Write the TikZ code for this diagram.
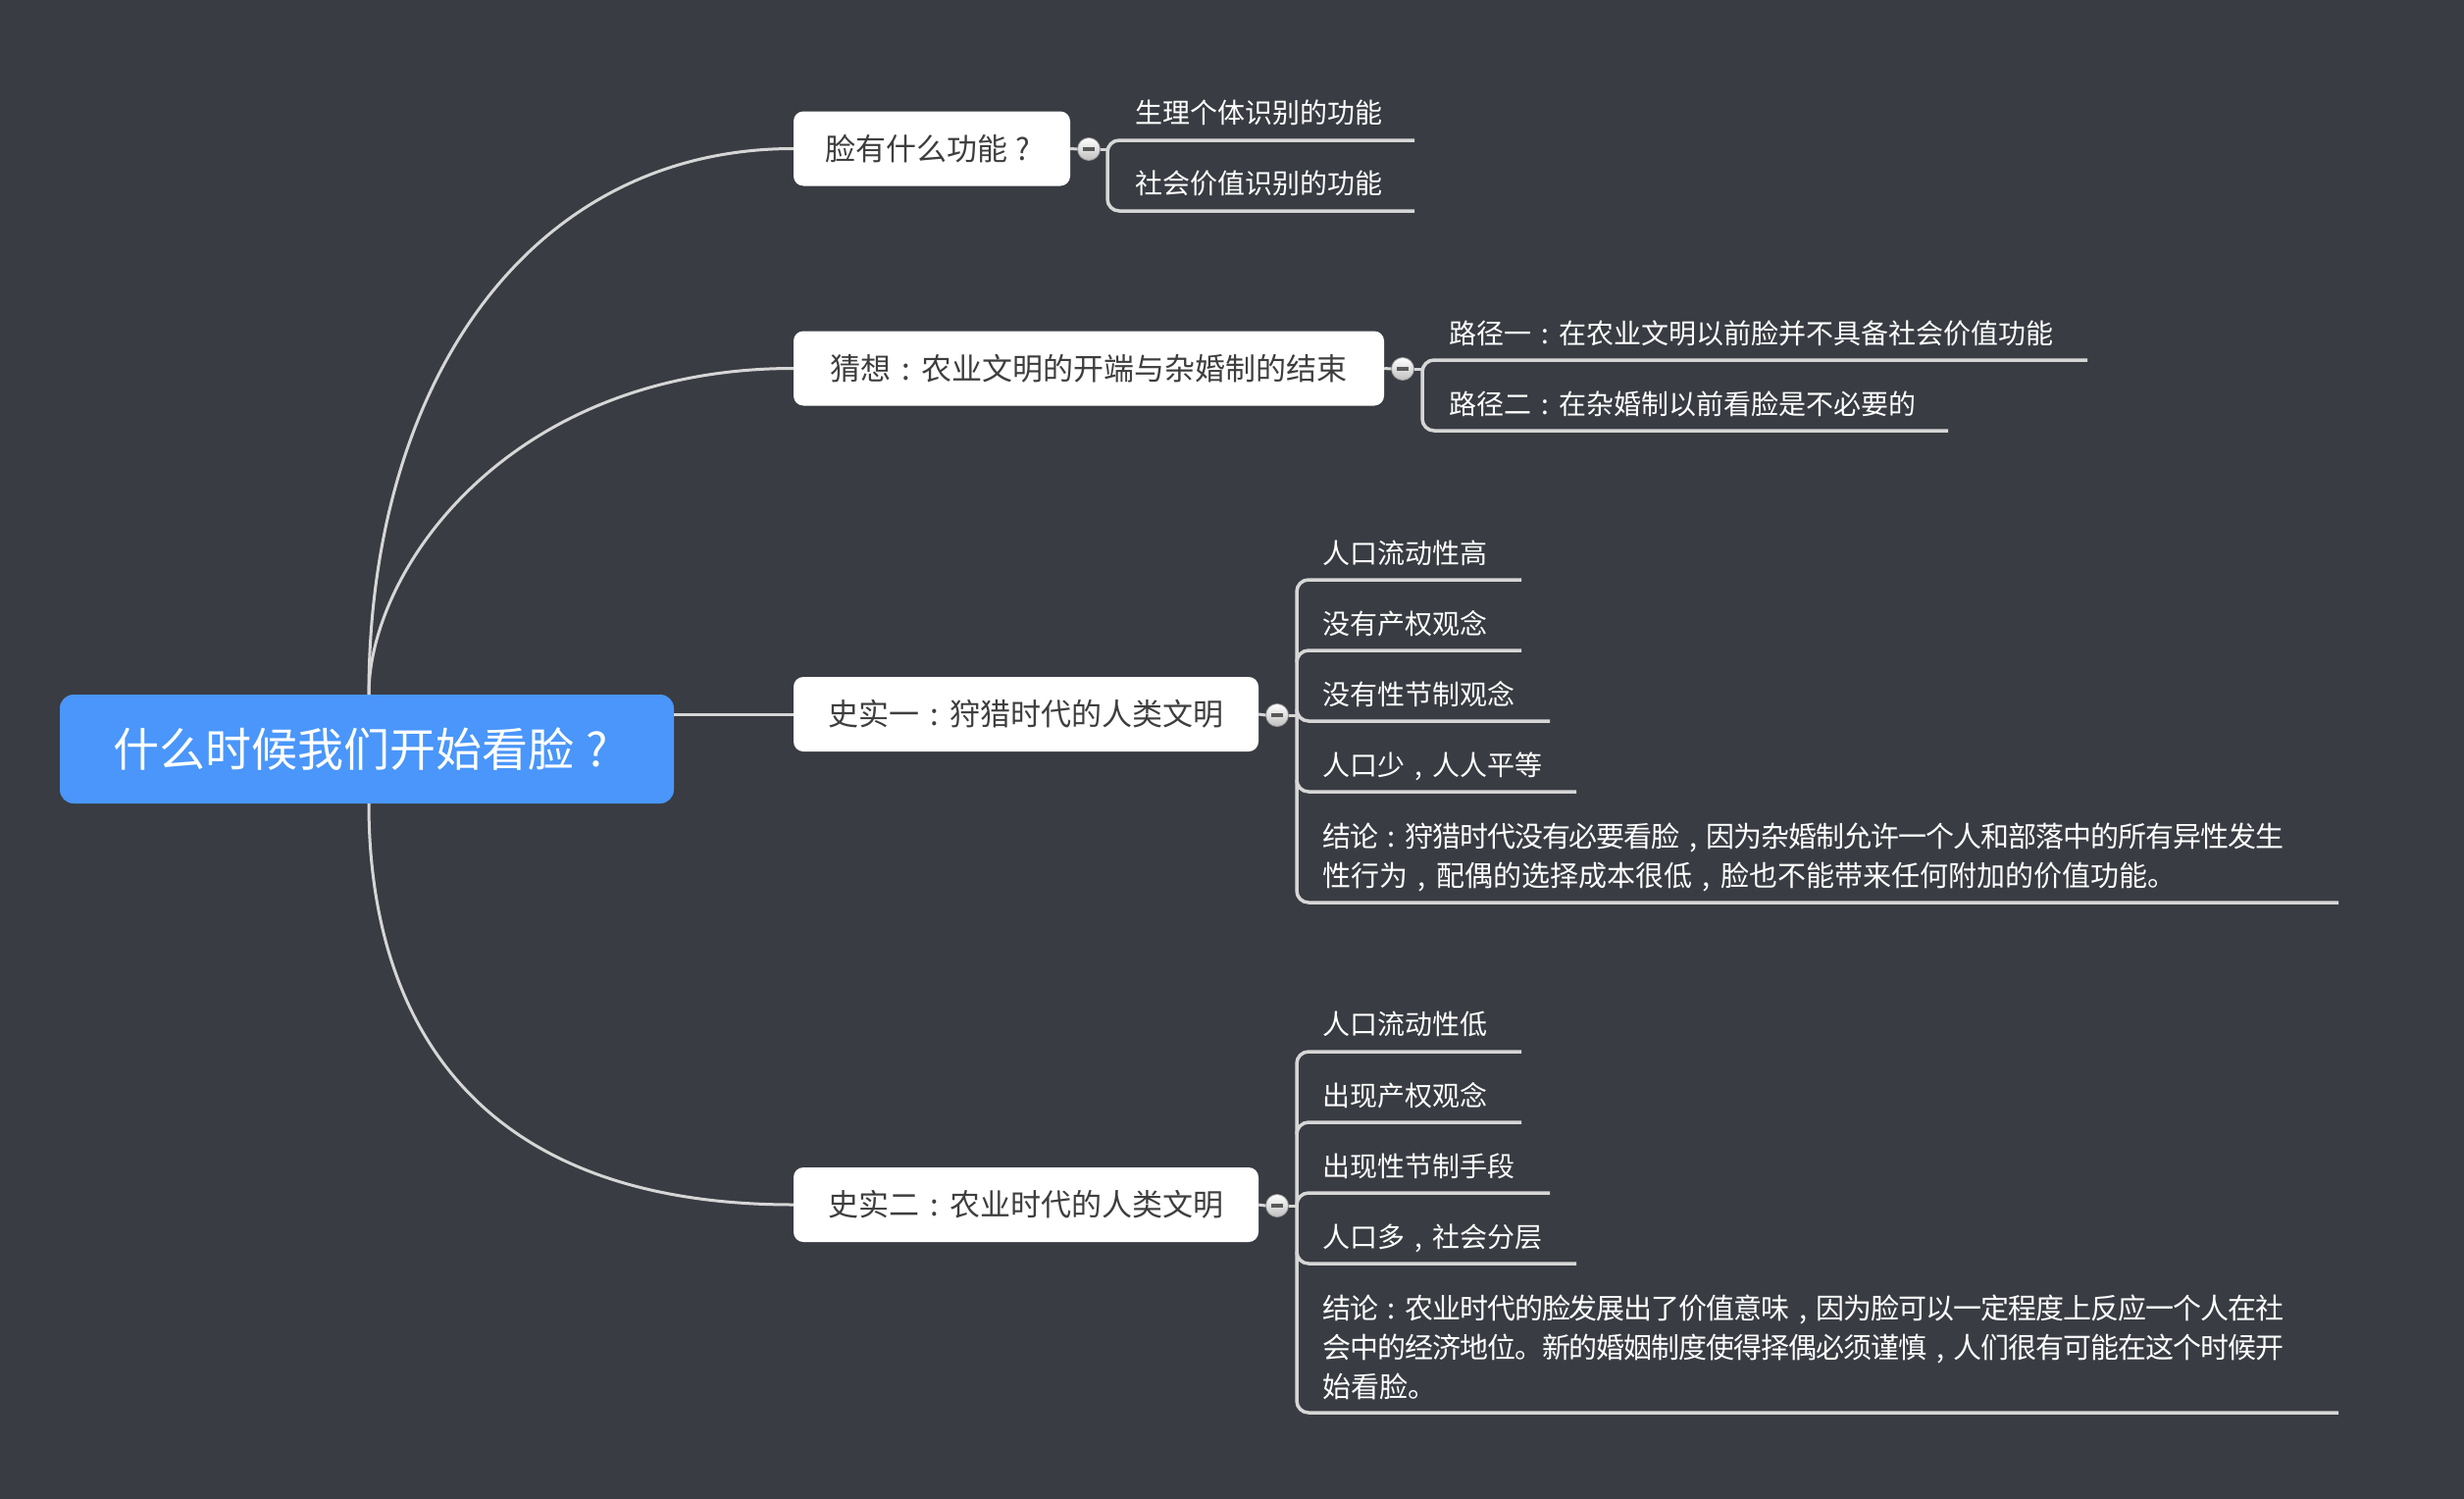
\documentclass[tikz,border=0pt]{standalone}
\usepackage{fontspec}
\newfontfamily\cjk{Noto Sans CJK SC}
\definecolor{bg}{RGB}{57,60,66}
\definecolor{rootblue}{RGB}{74,150,250}
\definecolor{linec}{RGB}{214,214,214}
\definecolor{boxtext}{RGB}{62,62,62}
\makeatletter
\def\spr#1{\hbox to 980pt{\spr@a#1\relax}}
\def\spr@a#1{#1\spr@b}
\def\spr@b#1{\ifx\relax#1\else\hskip 0pt plus 1fil minus 3pt#1\expandafter\spr@b\fi}
\makeatother
% centred full-width colon, question mark and comma
\newcommand{\zcolon}{\makebox[1em][c]{:}}
\newcommand{\zq}{\makebox[1em][c]{?}}
\newcommand{\zcomma}{\makebox[1em][c]{,}}
\tikzset{
  rootbox/.style={rectangle, rounded corners=14pt, fill=rootblue, text=white,
    font=\cjk\fontsize{47}{56}\selectfont, minimum width=626pt, minimum height=111pt, inner sep=0pt},
  topicbox/.style={rectangle, rounded corners=10pt, fill=white, text=boxtext,
    font=\cjk\fontsize{31}{38}\selectfont, minimum height=76pt, inner sep=0pt},
  leaf/.style={anchor=base west, text=white, font=\cjk\fontsize{28}{34}\selectfont, inner sep=0pt},
  concl/.style={anchor=base west, text=white, font=\cjk\fontsize{29}{40}\selectfont, inner sep=0pt},
  link/.style={draw=linec, line width=3pt},
  branch/.style={draw=linec, line width=3.5pt, rounded corners=12pt},
  fold/.style={circle, minimum size=23pt, inner sep=0pt, draw=black!40, line width=0.8pt,
    top color=white, bottom color=black!25},
}
\newcommand{\minusglyph}{\textcolor{black!65}{\rule[-1.6pt]{12pt}{3.2pt}}}
\begin{document}
\begin{tikzpicture}[x=1pt,y=-1pt]
\useasboundingbox (0,0) rectangle (2512,1528);
\fill[bg] (0,0) rectangle (2512,1528);

% root and main topics
\node[rootbox] (root) at (374,763.5) {什么时候我们开始看脸\zq};
\node[topicbox, minimum width=282pt] (t1) at (950,151.5) {脸有什么功能\zq};
\node[topicbox, minimum width=602pt] (t2) at (1110,375.5) {猜想\zcolon 农业文明的开端与杂婚制的结束};
\node[topicbox, minimum width=474pt] (t3) at (1046,728) {史实一\zcolon 狩猎时代的人类文明};
\node[topicbox, minimum width=474pt] (t4) at (1046,1228) {史实二\zcolon 农业时代的人类文明};

\coordinate (rt) at (376,708);
\coordinate (rb) at (376,819);
\draw[link] (rt) .. controls (376,390) and (540,151.5) .. (t1.west);
\draw[link] (rt) .. controls (376,580) and (520,375.5) .. (t2.west);
\draw[link] (root.east |- t3.west) -- (t3.west);
\draw[link] (rb) .. controls (376,1000) and (450,1228) .. (t4.west);

% fold markers
\node[fold] (f1) at (1110,152) {\minusglyph};
\node[fold] (f2) at (1430,376) {\minusglyph};
\node[fold] (f3) at (1302,729) {\minusglyph};
\node[fold] (f4) at (1302,1229) {\minusglyph};
\draw[link] (t1.east) -- (f1.west);
\draw[link] (t2.east) -- (f2.west);
\draw[link] (t3.east) -- (f3.west);
\draw[link] (t4.east) -- (f4.west);

% group 1
\coordinate (j1) at (1129,152);
\coordinate (e11) at (1442,143);
\coordinate (e12) at (1442,215);
\coordinate (k1) at (1129,215);
\draw[link] (f1.east) -- (j1);
\draw[branch] (e11) -| (k1) -- (e12);
\node[leaf] (l11) at (1157,125.6) {生理个体识别的功能};
\node[leaf] (l12) at (1157,197.6) {社会价值识别的功能};

% group 2
\coordinate (j2) at (1450,376);
\coordinate (e21) at (2128,367);
\coordinate (e22) at (1986,439);
\coordinate (k2) at (1450,439);
\draw[link] (f2.east) -- (j2);
\draw[branch] (e21) -| (k2) -- (e22);
\node[leaf] (l21) at (1477,350.6) {路径一\zcolon 在农业文明以前脸并不具备社会价值功能};
\node[leaf] (l22) at (1477,422.6) {路径二\zcolon 在杂婚制以前看脸是不必要的};

% group 3
\coordinate (j3) at (1322,729);
\coordinate (e31) at (1551,591);
\coordinate (e32) at (1551,663);
\coordinate (e33) at (1580,735);
\coordinate (e34) at (1607,807);
\coordinate (e35) at (2384,920);
\coordinate (k3) at (1322,920);
\coordinate (s32) at (1322,675);
\coordinate (s33) at (1322,723);
\coordinate (s34) at (1322,795);
\draw[link] (f3.east) -- (j3);
\draw[branch] (e31) -| (k3) -- (e35);
\draw[branch] (s32) |- (e32);
\draw[branch] (s33) |- (e33);
\draw[branch] (s34) |- (e34);
\node[leaf] (l31) at (1348,574.6) {人口流动性高};
\node[leaf] (l32) at (1348,646.6) {没有产权观念};
\node[leaf] (l33) at (1348,718.6) {没有性节制观念};
\node[leaf] (l34) at (1348,790.6) {人口少\zcomma 人人平等};
\node[concl] (l35a) at (1348,863) {\spr{结论\zcolon 狩猎时代没有必要看脸\zcomma 因为杂婚制允许一个人和部落中的所有异性发生}};
\node[concl] (l35b) at (1348,903) {性行为\zcomma 配偶的选择成本很低\zcomma 脸也不能带来任何附加的价值功能。};

% group 4
\coordinate (j4) at (1322,1229);
\coordinate (e41) at (1551,1072);
\coordinate (e42) at (1551,1144);
\coordinate (e43) at (1580,1216);
\coordinate (e44) at (1607,1288);
\coordinate (e45) at (2384,1440);
\coordinate (k4) at (1322,1440);
\coordinate (s42) at (1322,1156);
\coordinate (s43) at (1322,1228);
\coordinate (s44) at (1322,1276);
\draw[link] (f4.east) -- (j4);
\draw[branch] (e41) -| (k4) -- (e45);
\draw[branch] (s42) |- (e42);
\draw[branch] (s43) |- (e43);
\draw[branch] (s44) |- (e44);
\node[leaf] (l41) at (1348,1054.6) {人口流动性低};
\node[leaf] (l42) at (1348,1127.6) {出现产权观念};
\node[leaf] (l43) at (1348,1199.6) {出现性节制手段};
\node[leaf] (l44) at (1348,1271.6) {人口多\zcomma 社会分层};
\node[concl] (l45a) at (1348,1344) {\spr{结论\zcolon 农业时代的脸发展出了价值意味\zcomma 因为脸可以一定程度上反应一个人在社}};
\node[concl] (l45b) at (1348,1384) {\spr{会中的经济地位。新的婚姻制度使得择偶必须谨慎\zcomma 人们很有可能在这个时候开}};
\node[concl] (l45c) at (1348,1424) {始看脸。};
\end{tikzpicture}
\end{document}
